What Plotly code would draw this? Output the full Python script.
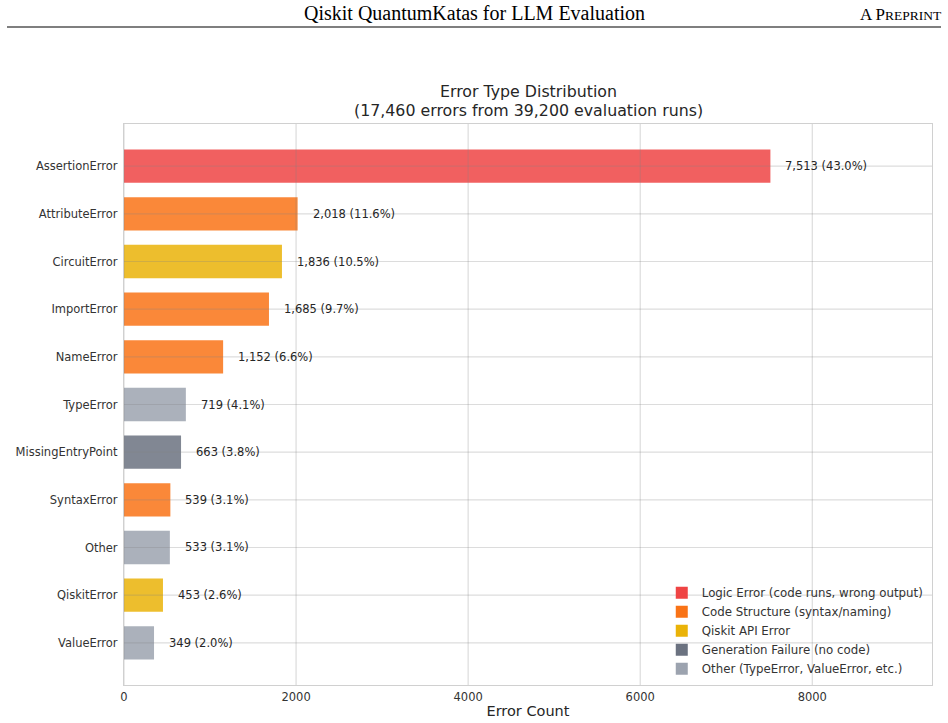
import plotly.graph_objects as go

# ---- data ----
error_types = ["AssertionError", "AttributeError", "CircuitError", "ImportError", "NameError",
               "TypeError", "MissingEntryPoint", "SyntaxError", "Other", "QiskitError", "ValueError"]
counts = [7513, 2018, 1836, 1685, 1152, 719, 663, 539, 533, 453, 349]
groups = ["logic", "code", "qiskit", "code", "code", "other", "gen", "code", "other", "qiskit", "other"]
total_runs = 39200

group_keys = ["logic", "code", "qiskit", "gen", "other"]
group_labels = ["Logic Error (code runs, wrong output)", "Code Structure (syntax/naming)",
                "Qiskit API Error", "Generation Failure (no code)", "Other (TypeError, ValueError, etc.)"]
group_colors = ["#ef4444", "#f97316", "#eab308", "#6b7280", "#9ca3af"]
x_ticks = [0, 2000, 4000, 6000, 8000]

total = sum(counts)
idx = list(range(len(error_types)))

fig = go.Figure()
FONT = "DejaVu Sans"

for key, label, color in zip(group_keys, group_labels, group_colors):
    ys = [i for i in idx if groups[i] == key]
    xs = [counts[i] for i in ys]
    fig.add_trace(go.Bar(x=xs, y=ys, orientation="h", width=0.7,
                         marker=dict(color=color, opacity=0.85, line=dict(width=0)),
                         showlegend=False, hoverinfo="skip"))
for key, label, color in zip(group_keys, group_labels, group_colors):
    fig.add_trace(go.Bar(x=[None], y=[None], orientation="h", name=label,
                         marker=dict(color=color, line=dict(width=0)), showlegend=True))

# value labels
for i in idx:
    fig.add_annotation(x=counts[i], y=i, xref="x", yref="y",
                       text=f"{counts[i]:,} ({counts[i] / total * 100:.1f}%)",
                       showarrow=False, xanchor="left", yanchor="middle", xshift=13,
                       font=dict(family=FONT, size=11.5, color="#262626"))

# grid lines above bars (matplotlib style)
grid_col = "rgba(128,128,128,0.28)"
for t in x_ticks:
    fig.add_shape(type="line", xref="x", yref="paper", x0=t, x1=t, y0=0, y1=1,
                  line=dict(color=grid_col, width=1.2), layer="above")
for i in idx:
    fig.add_shape(type="line", xref="paper", yref="y", x0=0, x1=1, y0=i, y1=i,
                  line=dict(color=grid_col, width=1.2), layer="above")

# page header
fig.add_annotation(xref="paper", yref="paper", x=(474 - 124) / 808, y=(685 - 13) / 561,
                   text="Qiskit QuantumKatas for LLM Evaluation", showarrow=False,
                   xanchor="center", yanchor="middle",
                   font=dict(family="Liberation Serif", size=20, color="#000000"))
fig.add_annotation(xref="paper", yref="paper", x=(944 - 124) / 808, y=(685 - 14) / 561,
                   text="A P<span style='font-size:13.5px'>REPRINT</span>", showarrow=False,
                   xanchor="right", yanchor="middle",
                   font=dict(family="Liberation Serif", size=17, color="#000000"))
fig.add_shape(type="line", xref="paper", yref="paper",
              x0=(7 - 124) / 808, x1=(941 - 124) / 808, y0=(685 - 27) / 561, y1=(685 - 27) / 561,
              line=dict(color="#000000", width=1.2))

# chart title (two lines)
fig.add_annotation(xref="paper", yref="paper", x=0.5, y=(685 - 92) / 561,
                   text="Error Type Distribution", showarrow=False,
                   xanchor="center", yanchor="middle",
                   font=dict(family=FONT, size=15.8, color="#262626"))
fig.add_annotation(xref="paper", yref="paper", x=0.5, y=(685 - 111) / 561,
                   text=f"({total:,} errors from {total_runs:,} evaluation runs)", showarrow=False,
                   xanchor="center", yanchor="middle",
                   font=dict(family=FONT, size=15.8, color="#262626"))

fig.update_layout(
    width=948, height=723,
    margin=dict(l=124, r=16, t=124, b=38),
    paper_bgcolor="white", plot_bgcolor="white",
    barmode="overlay",
    font=dict(family=FONT, size=11.5, color="#333333"),
    legend=dict(x=0.996, y=0.003, xanchor="right", yanchor="bottom",
                bgcolor="rgba(0,0,0,0)", borderwidth=0,
                font=dict(family=FONT, size=11.8, color="#333333"),
                tracegroupgap=0, itemwidth=30),
    xaxis=dict(range=[0, max(counts) * 1.25], tickvals=x_ticks, ticktext=[str(t) for t in x_ticks],
               showgrid=False, zeroline=False, showline=True, mirror=True, automargin=False,
               linecolor="#d0d0d0", linewidth=1.2, ticks="", ticklabelstandoff=1,
               title=dict(text="Error Count", font=dict(family=FONT, size=14.5, color="#262626"), standoff=2),
               tickfont=dict(family=FONT, size=11.5, color="#333333")),
    yaxis=dict(range=[len(idx) - 1 + 0.885, -0.885], tickvals=idx, ticktext=error_types,
               showgrid=False, zeroline=False, showline=True, mirror=True, automargin=False,
               linecolor="#d0d0d0", linewidth=1.2, ticks="", ticklabelstandoff=3,
               tickfont=dict(family=FONT, size=11.5, color="#333333")),
)

fig.write_html("out.html")
